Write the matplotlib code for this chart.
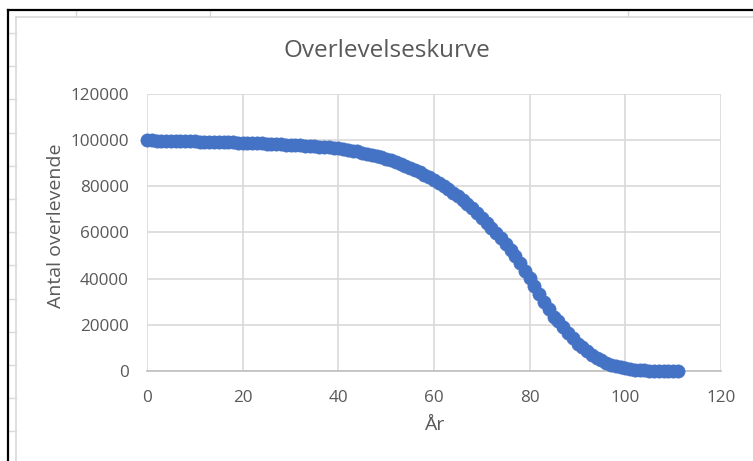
import numpy as np
import matplotlib
matplotlib.use("Agg")
import matplotlib.pyplot as plt
from matplotlib.lines import Line2D

plt.rcParams['font.family'] = ['Open Sans', 'DejaVu Sans']

# Alder (år) og antal overlevende
years = list(range(0, 112))
survivors = [
    100000, 99900, 99850, 99800, 99750, 99700, 99650, 99600, 99550, 99500,
    99450, 99400, 99350, 99300, 99250, 99200, 99150, 99100, 99000, 98950,
    98900, 98800, 98750, 98650, 98600, 98500, 98400, 98300, 98200, 98100,
    98000, 97900, 97750, 97650, 97500, 97400, 97250, 97100, 96950, 96800,
    96600, 96250, 95900, 95500, 95100, 94650, 94150, 93650, 93100, 92500,
    91900, 91200, 90500, 89750, 88950, 88100, 87150, 86150, 85100, 84000,
    82800, 81500, 80200, 78800, 77300, 75700, 74000, 72250, 70400, 68450,
    66400, 64300, 62100, 59800, 57450, 55000, 52400, 49700, 46600, 43400,
    40100, 36800, 33400, 30100, 26800, 23600, 21800, 19100, 16500, 14100,
    11900, 10200, 8500, 7000, 5700, 4600, 3600, 2800, 2100, 1600,
    1200, 850, 600, 400, 270, 170, 100, 60, 35, 20,
    10, 5,
]

title = "Overlevelseskurve"
xlabel = "År"
ylabel = "Antal overlevende"
xticks = [0, 20, 40, 60, 80, 100, 120]
yticks = [0, 20000, 40000, 60000, 80000, 100000, 120000]

W, H = 753, 461
text_col = "#595959"
grid_col = "#d9d9d9"
blue = "#4472C4"

fig = plt.figure(figsize=(W / 100, H / 100), dpi=100)
fig.patch.set_facecolor("white")


def fx(px):
    return px / W


def fy(py):
    return 1 - py / H


# spreadsheet bits around the chart object
for y in np.arange(33, H, 33.2):
    fig.add_artist(Line2D([fx(8), fx(16)], [fy(y), fy(y)], color=grid_col, lw=1))
for x in [76, 210, 628]:
    fig.add_artist(Line2D([fx(x), fx(x)], [fy(11), fy(17)], color=grid_col, lw=1))
fig.add_artist(Line2D([fx(16), fx(16)], [fy(17), 0], color=grid_col, lw=1.2))
fig.add_artist(Line2D([fx(16), 1], [fy(17), fy(17)], color=grid_col, lw=1.2))
fig.add_artist(Line2D([fx(8), fx(8)], [fy(10.5), 0], color="black", lw=1.6))
fig.add_artist(Line2D([fx(8), 1], [fy(10.5), fy(10.5)], color="black", lw=1.6))

ax = fig.add_axes([fx(147), fy(371), fx(721) - fx(147), fy(94) - fy(371)])
ax.plot(years, survivors, "o", color=blue, ms=9.5, mec=blue, mew=0.5, zorder=3, clip_on=False)

ax.set_xlim(0, 120)
ax.set_ylim(0, 120000)
ax.set_xticks(xticks)
ax.set_yticks(yticks)
ax.set_xticklabels([str(t) for t in xticks])
ax.set_yticklabels([str(t) for t in yticks])
ax.tick_params(length=0, labelsize=12.3, labelcolor=text_col)
ax.tick_params(axis="y", pad=13)
ax.tick_params(axis="x", pad=14)
ax.grid(True, color=grid_col, lw=1.2)
ax.set_axisbelow(True)
for side in ["top", "right", "left"]:
    ax.spines[side].set_visible(False)
ax.spines["bottom"].set_color("#bfbfbf")
ax.spines["bottom"].set_linewidth(1.2)

fig.text(fx(387), fy(51), title, ha="center", va="center", fontsize=17.5, color=text_col)
fig.text(fx(56), fy(226), ylabel, ha="center", va="center", rotation=90,
         fontsize=14, color=text_col)
fig.text(fx(434), fy(425), xlabel, ha="center", va="center", fontsize=14, color=text_col)

fig.savefig("out.png", dpi=100)
